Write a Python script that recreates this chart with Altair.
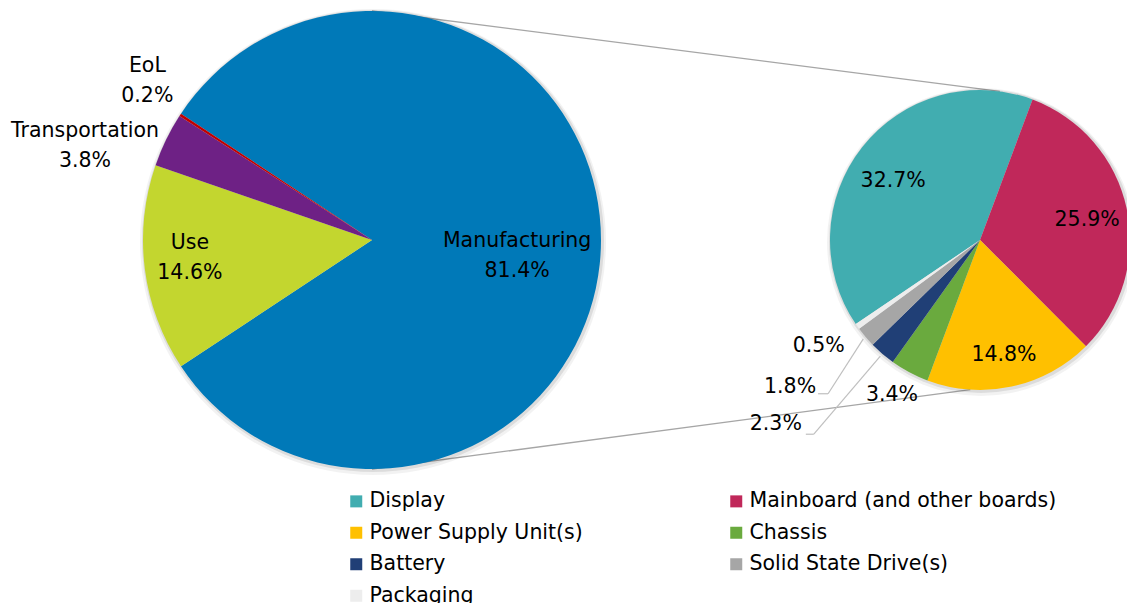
import math
import altair as alt
import pandas as pd

# ---------------- data ----------------
phases = ["Manufacturing", "Use", "Transportation", "EoL"]
phase_share = [81.4, 14.6, 3.8, 0.2]

parts = ["Display", "Mainboard (and other boards)", "Power Supply Unit(s)",
         "Chassis", "Battery", "Solid State Drive(s)", "Packaging"]
part_share = [32.7, 25.9, 14.8, 3.4, 2.3, 1.8, 0.5]

# ---------------- styles / layout ----------------
phase_colors = ["#0079B8", "#C3D62F", "#6E2185", "#C00000"]
part_colors = ["#41ADB0", "#C0285A", "#FFC000", "#6AAA3E", "#203F76", "#A6A6A6", "#EDEDED"]

FONT = "DejaVu Sans"
FS = 20.5
LH = 30
W, H = 1127, 603

BIG = dict(cx=372, cy=240, r=229)
SMALL = dict(cx=980, cy=240, r=150)
# Excel pie-of-pie: the split slice is centred on the right-hand side
BIG["start"] = math.pi / 2 - math.pi * phase_share[0] / sum(phase_share)
SMALL["start"] = math.radians(-124.1)

# label placement: (distance from centre in px, angular nudge in degrees)
label_pos = {
    "Manufacturing": (146, 6.3), "Use": (183, 1.6),
    "Transportation": (302, -7.8), "EoL": (275, 2.1),
    "Display": (105, -4.0), "Mainboard (and other boards)": (109, 1.6),
    "Power Supply Unit(s)": (117, 0.4), "Chassis": (178, 1.6),
    "Battery": (275, 7.3), "Solid State Drive(s)": (240, 2.6),
    "Packaging": (193, 1.9),
}
# leader lines: (dx from label centre, dy, horizontal length)
leaders = {"Solid State Drive(s)": (28, 7, 10), "Battery": (30, 10, 8)}


def table(names, values, two_line):
    rows = []
    for i, (n, v) in enumerate(zip(names, values)):
        lr, nd = label_pos[n]
        ldx, ldy, lh = leaders.get(n, (0, 0, 0))
        txt = f"{n}\n{v:.1f}%" if two_line else f"{v:.1f}%"
        rows.append(dict(name=n, value=v, order=i, lr=lr, nudge=nd,
                         ldx=ldx, ldy=ldy, lh=lh, label=txt))
    return pd.DataFrame(rows)


color_scale = alt.Scale(domain=phases + parts, range=phase_colors + part_colors)
legend = alt.Legend(
    values=parts, orient="none", legendX=346, legendY=491, columns=2,
    direction="horizontal",
    columnPadding=143, rowPadding=10.5, symbolType="square", symbolSize=144,
    symbolStrokeWidth=0, labelFont=FONT, labelFontSize=FS, labelColor="#000000",
    labelOffset=3, labelLimit=400, title=None,
)


def base(df, P):
    b = alt.Chart(df).transform_joinaggregate(total="sum(value)").transform_window(
        cum="sum(value)", sort=[alt.SortField("order", order="ascending")]
    )
    b = b.transform_calculate(t0=f"{P['start']} + 2*PI*(datum.cum - datum.value)/datum.total")
    b = b.transform_calculate(t1=f"{P['start']} + 2*PI*datum.cum/datum.total")
    b = b.transform_calculate(mid="(datum.t0 + datum.t1)/2")
    b = b.transform_calculate(la="datum.mid + datum.nudge*PI/180")
    b = b.transform_calculate(lx=f"{P['cx']} + datum.lr*sin(datum.la)")
    b = b.transform_calculate(ly=f"{P['cy']} - datum.lr*cos(datum.la)")
    b = b.transform_calculate(ex=f"{P['cx']} + {P['r'] + 3}*sin(datum.mid)")
    b = b.transform_calculate(ey=f"{P['cy']} - {P['r'] + 3}*cos(datum.mid)")
    b = b.transform_calculate(hx0="datum.lx + datum.ldx")
    b = b.transform_calculate(hy="datum.ly + datum.ldy")
    b = b.transform_calculate(hx1="datum.hx0 + datum.lh")
    return b


def pie(df, P, two_line):
    b = base(df, P)
    shadow_df = pd.DataFrame({"k": [0]})
    sh1 = alt.Chart(shadow_df).mark_arc(
        radius=P["r"] + 4, theta=0, theta2=2 * math.pi, color="#000000", opacity=0.05
    ).encode(x=alt.value(P["cx"] + 1), y=alt.value(P["cy"] + 2))
    sh2 = alt.Chart(shadow_df).mark_arc(
        radius=P["r"] + 2, theta=0, theta2=2 * math.pi, color="#000000", opacity=0.09
    ).encode(x=alt.value(P["cx"] + 1), y=alt.value(P["cy"] + 1))
    arc = b.mark_arc(radius=P["r"]).encode(
        theta=alt.Theta("t0:Q", scale=None),
        theta2=alt.Theta2("t1:Q"),
        color=alt.Color("name:N", scale=color_scale, legend=legend),
        x=alt.value(P["cx"]),
        y=alt.value(P["cy"]),
    )
    lead = b.transform_filter("datum.lh > 0")
    seg1 = lead.mark_rule(color="#BFBFBF", strokeWidth=1.2).encode(
        x=alt.X("hx0:Q", scale=None, axis=None), y=alt.Y("hy:Q", scale=None, axis=None),
        x2="hx1:Q", y2="hy:Q",
    )
    seg2 = lead.mark_rule(color="#BFBFBF", strokeWidth=1.2).encode(
        x=alt.X("hx1:Q", scale=None, axis=None), y=alt.Y("hy:Q", scale=None, axis=None),
        x2="ex:Q", y2="ey:Q",
    )
    txt = b.mark_text(font=FONT, fontSize=FS, color="#000000", lineBreak="\n",
                      lineHeight=LH, align="center", baseline="middle",
                      dy=-LH / 2 if two_line else 0).encode(
        x=alt.X("lx:Q", scale=None, axis=None),
        y=alt.Y("ly:Q", scale=None, axis=None),
        text="label:N",
    )
    return [sh1, sh2, arc, seg1, seg2, txt]


big_df = table(phases, phase_share, True)
small_df = table(parts, part_share, False)

# connector lines between the two pies
a_top, a_bot = math.radians(7.6), math.radians(183.7)
conn = pd.DataFrame({
    "x0": [BIG["cx"], BIG["cx"]],
    "y0": [BIG["cy"] - BIG["r"], BIG["cy"] + BIG["r"]],
    "x1": [SMALL["cx"] + SMALL["r"] * math.sin(a_top), SMALL["cx"] + SMALL["r"] * math.sin(a_bot)],
    "y1": [SMALL["cy"] - SMALL["r"] * math.cos(a_top), SMALL["cy"] - SMALL["r"] * math.cos(a_bot)],
})
connectors = alt.Chart(conn).mark_rule(color="#A6A6A6", strokeWidth=1.3).encode(
    x=alt.X("x0:Q", scale=None, axis=None), y=alt.Y("y0:Q", scale=None, axis=None),
    x2="x1:Q", y2="y1:Q",
)

layers = [connectors] + pie(big_df, BIG, True) + pie(small_df, SMALL, False)

chart = alt.layer(*layers).properties(
    width=W, height=H, padding=0, autosize=alt.AutoSizeParams(type="none"),
    background="#FFFFFF",
).configure_view(strokeWidth=0)

chart.save("out.html", embed_options={"renderer": "svg", "actions": False})
